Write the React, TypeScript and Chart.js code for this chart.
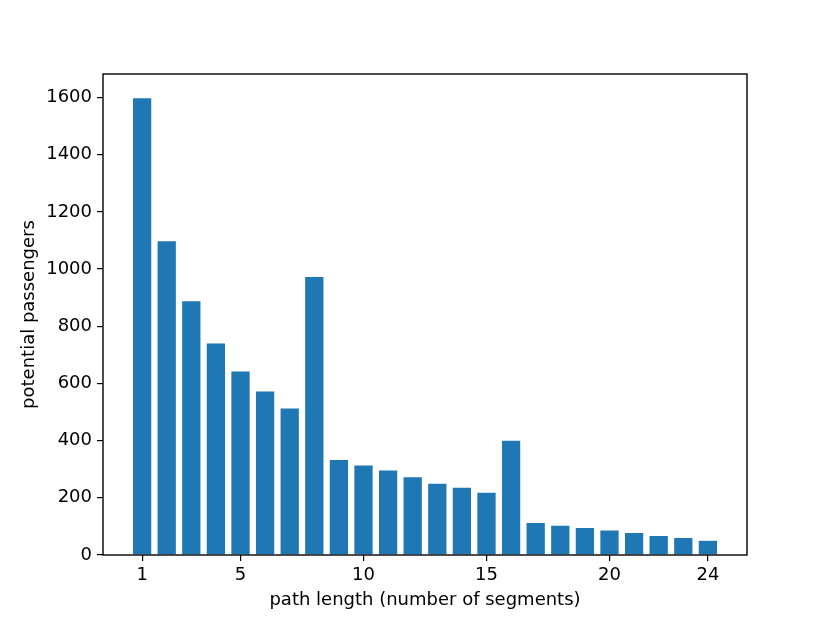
import React, { useEffect, useRef } from "react";
import { Chart, registerables } from "chart.js";

Chart.register(...registerables);

const pathLengths = [1, 2, 3, 4, 5, 6, 7, 8, 9, 10, 11, 12, 13, 14, 15, 16, 17, 18, 19, 20, 21, 22, 23, 24];
const passengers = [1600, 1100, 890, 742, 644, 574, 515, 975, 335, 315, 298, 274, 252, 238, 220, 402, 114, 105, 97, 88, 79, 69, 62, 52];
const xTickValues = [1, 5, 10, 15, 20, 24];
const yTickValues = [0, 200, 400, 600, 800, 1000, 1200, 1400, 1600];

const FONT = "'DejaVu Sans', sans-serif";

const framePlugin = {
  id: "frame",
  afterDatasetsDraw(chart: any) {
    const { ctx, chartArea } = chart;
    ctx.save();
    ctx.strokeStyle = "#000";
    ctx.lineWidth = 1.4;
    ctx.strokeRect(chartArea.left, chartArea.top, chartArea.right - chartArea.left, chartArea.bottom - chartArea.top);
    ctx.restore();
  },
};

export default function App() {
  const ref = useRef<HTMLCanvasElement | null>(null);
  useEffect(() => {
    if (!ref.current) return;
    const chart = new Chart(ref.current, {
      type: "bar",
      data: {
        datasets: [
          {
            data: pathLengths.map((x, i) => ({ x, y: passengers[i] })),
            backgroundColor: "#1f77b4",
            borderColor: "rgba(255,255,255,0.8)",
            borderWidth: 0.7,
            barPercentage: 0.8,
            categoryPercentage: 1,
          },
        ],
      },
      options: {
        animation: false,
        responsive: false,
        devicePixelRatio: 1,
        layout: { padding: { top: 74, right: 83, bottom: 0, left: 0 } },
        plugins: { legend: { display: false }, tooltip: { enabled: false } },
        scales: {
          x: {
            type: "linear",
            min: -0.59,
            max: 25.59,
            offset: false,
            afterBuildTicks: (s: any) => {
              s.ticks = xTickValues.map((v) => ({ value: v }));
            },
            afterFit: (s: any) => {
              s.height = 68;
            },
            grid: { display: true, offset: false, drawOnChartArea: false, drawTicks: true, tickLength: 6, color: "#000", lineWidth: 1.2 },
            border: { display: false },
            ticks: {
              color: "#000",
              font: { family: FONT, size: 18 },
              padding: 4,
              maxRotation: 0,
              autoSkip: false,
              callback: (v: any) => String(v),
            },
            title: {
              display: true,
              text: "path length (number of segments)",
              color: "#000",
              font: { family: FONT, size: 18 },
              padding: { top: 0, bottom: 12 },
            },
          },
          y: {
            type: "linear",
            min: 0,
            max: 1682,
            afterBuildTicks: (s: any) => {
              s.ticks = yTickValues.map((v) => ({ value: v }));
            },
            afterFit: (s: any) => {
              s.width = 103;
            },
            grid: { display: true, drawOnChartArea: false, drawTicks: true, tickLength: 6, color: "#000", lineWidth: 1.2 },
            border: { display: false },
            ticks: { color: "#000", font: { family: FONT, size: 18 }, padding: 5, callback: (v: any) => String(v) },
            title: {
              display: true,
              text: "potential passengers",
              color: "#000",
              font: { family: FONT, size: 18 },
              padding: { top: 19, bottom: 0 },
            },
          },
        },
      },
      plugins: [framePlugin],
    });
    return () => chart.destroy();
  }, []);
  return (
    <div style={{ position: "absolute", left: 0, top: 0, width: 830, height: 623, background: "#fff" }}>
      <canvas ref={ref} width={830} height={623} style={{ width: 830, height: 623 }} />
    </div>
  );
}
